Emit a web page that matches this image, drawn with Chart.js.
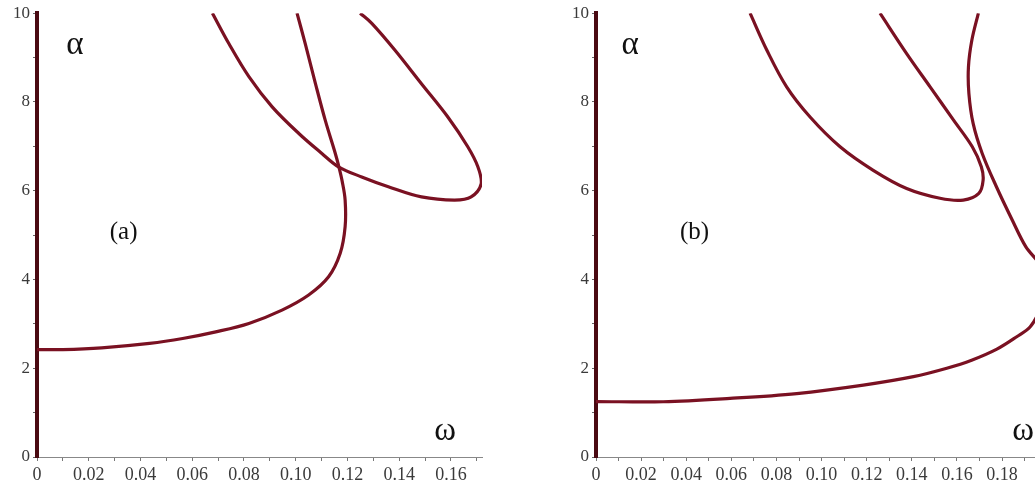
<!DOCTYPE html>
<html>
<head>
<meta charset="utf-8">
<script src="https://cdn.jsdelivr.net/npm/chart.js@4/dist/chart.umd.min.js"></script>
<style>
  html, body { margin: 0; padding: 0; background: #fff; }
  body { width: 1035px; height: 491px; position: relative; overflow: hidden; }
  canvas { position: absolute; top: 0; }
  #left { left: 0; }
  #right { left: 530px; }
</style>
</head>
<body>
<canvas id="left" width="500" height="491"></canvas>
<canvas id="right" width="505" height="491"></canvas>
<script>
// ---- Panel (a) data ----
const aMainW = [0, 0.01, 0.025, 0.0435, 0.0563, 0.0691, 0.0819, 0.0947, 0.105, 0.1127, 0.1172, 0.1191, 0.1191, 0.118, 0.1165, 0.1153, 0.1114, 0.1076, 0.1037, 0.1005];
const aMainAlpha = [2.42, 2.42, 2.46, 2.56, 2.67, 2.82, 3.01, 3.31, 3.65, 4.06, 4.59, 5.19, 5.79, 6.2, 6.58, 6.84, 7.59, 8.42, 9.31, 10.0];
const aLoopW = [0.0678, 0.0742, 0.0819, 0.0909, 0.1012, 0.1101, 0.1165, 0.1255, 0.1358, 0.1486, 0.1614, 0.1678, 0.1717, 0.1704, 0.1665, 0.1588, 0.1486, 0.1383, 0.1294, 0.1249];
const aLoopAlpha = [10, 9.31, 8.57, 7.89, 7.29, 6.84, 6.54, 6.31, 6.09, 5.86, 5.79, 5.86, 6.16, 6.54, 6.99, 7.66, 8.41, 9.17, 9.77, 10];

// ---- Panel (b) data ----
const bMainW = [0, 0.0298, 0.0594, 0.089, 0.1185, 0.1407, 0.1555, 0.1665, 0.1777, 0.1865, 0.1924, 0.1965, 0.1985, 0.197, 0.1905, 0.1845, 0.1775, 0.1712, 0.1672, 0.1653, 0.1651, 0.1666, 0.1695];
const bMainAlpha = [1.25, 1.245, 1.32, 1.43, 1.62, 1.81, 2.0, 2.18, 2.43, 2.71, 2.93, 3.3, 3.8, 4.3, 4.74, 5.34, 6.09, 6.84, 7.51, 8.19, 8.79, 9.39, 10];
const bLoopW = [0.0683, 0.0757, 0.0845, 0.0949, 0.1082, 0.1229, 0.1377, 0.1525, 0.1628, 0.1697, 0.1716, 0.1708, 0.1668, 0.1585, 0.1481, 0.1377, 0.1259];
const bLoopAlpha = [10, 9.17, 8.34, 7.66, 6.99, 6.46, 6.05, 5.83, 5.79, 5.94, 6.24, 6.54, 6.99, 7.59, 8.34, 9.09, 10];

// ---- Axes / labels ----
const alphaTicks = [0, 2, 4, 6, 8, 10];
const leftWRange = [0, 0.172];
const rightWRange = [0, 0.1946];
const alphaRange = [0, 10];
const leftNotes = [
  { text: 'α', w: 0.0146, a: 9.28 },
  { text: '(a)', w: 0.0335, a: 5.05 },
  { text: 'ω', w: 0.1577, a: 0.58 }
];
const rightNotes = [
  { text: 'α', w: 0.0151, a: 9.28 },
  { text: '(b)', w: 0.0437, a: 5.05 },
  { text: 'ω', w: 0.1893, a: 0.58 }
];

const CURVE = '#7a1122';
const AXISRED = '#4a0a12';

function pts(ws, as) { return ws.map((w, i) => ({ x: w, y: as[i] })); }

const notesPlugin = {
  id: 'notes',
  afterDatasetsDraw(chart, args, opts) {
    const ctx = chart.ctx, xs = chart.scales.x, ys = chart.scales.y;
    ctx.save();
    ctx.fillStyle = '#111';
    ctx.textAlign = 'center';
    ctx.textBaseline = 'middle';
    for (const t of opts.items) {
      ctx.font = (t.text.length > 1 ? '25px' : '33px') + ' "Liberation Serif", "DejaVu Serif", serif';
      ctx.fillText(t.text, xs.getPixelForValue(t.w), ys.getPixelForValue(t.a));
    }
    ctx.restore();
  }
};

function makeChart(id, series, wRange, yAxisWidth, rightPad, notes) {
  const datasets = series.map(s => ({
    data: pts(s[0], s[1]),
    showLine: true,
    pointRadius: 0,
    borderColor: CURVE,
    borderWidth: 3.2,
    tension: 0.35,
    fill: false
  }));
  return new Chart(document.getElementById(id), {
    type: 'scatter',
    data: { datasets },
    plugins: [notesPlugin],
    options: {
      responsive: false,
      animation: false,
      layout: { padding: { top: 13, right: rightPad, left: 0, bottom: 0 } },
      plugins: {
        legend: { display: false },
        tooltip: { enabled: false },
        notes: { items: notes }
      },
      scales: {
        x: {
          type: 'linear',
          min: wRange[0],
          max: wRange[1],
          afterFit(scale) { scale.height = 34; },
          border: { display: true, color: '#888', width: 1 },
          grid: { drawOnChartArea: false, drawTicks: true, tickLength: 4, color: '#777' },
          ticks: {
            stepSize: 0.01,
            includeBounds: false,
            autoSkip: false,
            maxRotation: 0,
            padding: 3,
            color: '#3a3a3a',
            font: { family: '"Liberation Serif", serif', size: 18 },
            callback(v) {
              const k = Math.round(v * 100);
              if (k % 2 !== 0) return '';
              return k === 0 ? '0' : (k / 100).toFixed(2);
            }
          }
        },
        y: {
          type: 'linear',
          min: alphaRange[0],
          max: alphaRange[1],
          afterFit(scale) { scale.width = yAxisWidth; },
          border: { display: true, color: AXISRED, width: 4 },
          grid: { drawOnChartArea: false, drawTicks: true, tickLength: 4, color: '#666' },
          ticks: {
            stepSize: 1,
            autoSkip: false,
            padding: 3,
            color: '#3a3a3a',
            font: { family: '"Liberation Serif", serif', size: 17 },
            callback(v) { return alphaTicks.includes(v) ? String(v) : ''; }
          }
        }
      }
    }
  });
}

makeChart('left', [[aMainW, aMainAlpha], [aLoopW, aLoopAlpha]], leftWRange, 37, 18, leftNotes);
makeChart('right', [[bMainW, bMainAlpha], [bLoopW, bLoopAlpha]], rightWRange, 66, 0, rightNotes);
</script>
</body>
</html>
